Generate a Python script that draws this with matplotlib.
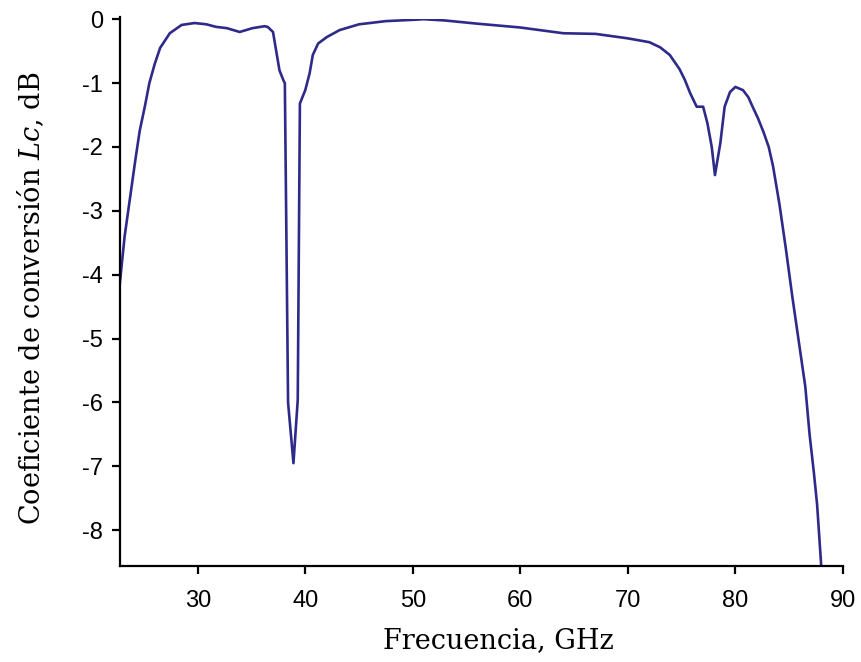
import matplotlib
matplotlib.use('Agg')
import matplotlib.pyplot as plt

# Frequency (GHz) and conversion coefficient Lc (dB)
freq = [22.74, 23.2, 23.7, 24.2, 24.6, 25.1, 25.5, 26.0, 26.5, 27.4, 28.5, 29.7,
        30.8, 31.7, 32.7, 33.9, 35.1, 36.2, 36.5, 37.0, 37.6, 38.0, 38.1, 38.4,
        38.9, 39.3, 39.5, 40.0, 40.4, 40.7, 41.2, 42.0, 43.2, 45.0, 47.5, 50.0,
        51.0, 53.0, 56.0, 60.0, 64.0, 67.0, 70.0, 72.0, 73.0, 73.9, 74.8, 75.3,
        75.8, 76.4, 77.0, 77.4, 77.8, 78.1, 78.6, 79.0, 79.5, 80.0, 80.7, 81.2,
        81.6, 82.1, 82.6, 83.1, 83.5, 84.1, 84.7, 85.3, 85.9, 86.5, 86.9, 87.3,
        87.6, 88.0]
lc = [-4.16, -3.4, -2.8, -2.2, -1.75, -1.35, -1.0, -0.7, -0.45, -0.22, -0.09, -0.06,
      -0.08, -0.12, -0.14, -0.2, -0.14, -0.11, -0.12, -0.2, -0.8, -0.97, -1.0, -6.0,
      -6.95, -5.96, -1.32, -1.11, -0.85, -0.56, -0.38, -0.28, -0.17, -0.08, -0.03, -0.01,
      0.0, -0.02, -0.07, -0.13, -0.22, -0.23, -0.3, -0.36, -0.44, -0.56, -0.78, -0.95,
      -1.16, -1.37, -1.37, -1.63, -2.0, -2.44, -1.94, -1.37, -1.14, -1.06, -1.11, -1.22,
      -1.37, -1.55, -1.76, -2.0, -2.3, -2.9, -3.6, -4.35, -5.05, -5.75, -6.5, -7.1,
      -7.6, -8.6]

xticks = [30, 40, 50, 60, 70, 80, 90]
yticks = [0, -1, -2, -3, -4, -5, -6, -7, -8]

plt.rcParams['mathtext.fontset'] = 'dejavuserif'

fig = plt.figure(figsize=(8.61, 6.62), dpi=100)
ax = fig.add_axes([0.139, 0.145, 0.840, 0.826])
ax.plot(freq, lc, color='#2E2A8A', linewidth=1.9)

ax.set_xlim(22.74, 90)
ax.set_ylim(-8.56, 0)
ax.set_xticks(xticks)
ax.set_yticks(yticks)
ax.set_yticklabels([str(t) for t in yticks])
for lbl in ax.get_xticklabels() + ax.get_yticklabels():
    lbl.set_family('Liberation Sans')
    lbl.set_fontsize(17)
ax.tick_params(direction='out', length=6, width=1.6)
ax.tick_params(axis='x', pad=11)
ax.tick_params(axis='y', pad=6)

for s in ['top', 'right']:
    ax.spines[s].set_visible(False)
for s in ['left', 'bottom']:
    ax.spines[s].set_linewidth(1.6)
ax.spines['left'].set_bounds(-8.56, 0.03)

ax.set_xlabel('Frecuencia, GHz', family='DejaVu Serif', fontsize=19.5,
              labelpad=11, x=0.524)
ax.set_ylabel(r'Coeficiente de conversión $Lc$, dB', family='DejaVu Serif',
              fontsize=19.5, labelpad=26, y=0.49)

fig.savefig('out.png', dpi=100)
